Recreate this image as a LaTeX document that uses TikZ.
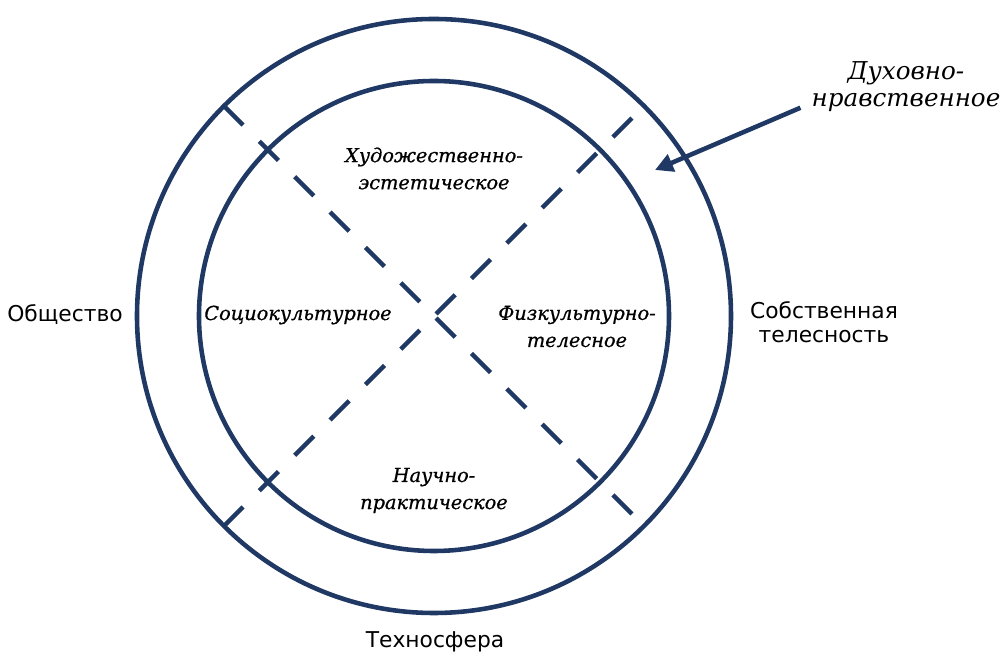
\documentclass[tikz,border=0pt]{standalone}
\usepackage{fontspec}
\setmainfont{DejaVu Serif}
\setsansfont{DejaVu Sans}
\usetikzlibrary{arrows.meta}

\begin{document}
\begin{tikzpicture}

    \definecolor{ringcolor}{HTML}{1F3864}
    \def\rout{5.94}
    \def\rin{4.7}
    \tikzset{
        ring/.style={draw=ringcolor, line width=2.6pt},
        cut/.style={ring, dash pattern=on 0.54cm off 0.46cm},
        sphere/.style={font=\itshape\addfontfeature{FakeBold=0.8}\fontsize{11}{15.4}\selectfont, align=center},
        outside/.style={font=\sffamily\fontsize{12.4}{13.4}\selectfont, align=center}
    }

    \useasboundingbox (-8.68,6.32) rectangle (11.40,-6.74);

    \draw[ring] (0,0) circle (\rout cm);
    \draw[ring] (0,0) circle (\rin cm);

    \draw[cut] (135:\rout) -- (-45:\rout);
    \draw[cut] (225:\rout) -- (45:\rout);

    \node[sphere] (art) at (0,2.95) {Художественно-\\эстетическое};
    \node[sphere] (soc) at (-2.72,0.02) {Социокультурное};
    \node[sphere] (phys) at (2.86,-0.21) {Физкультурно-\\телесное};
    \node[sphere] (sci) at (0,-3.49) {Научно-\\практическое};

    \node[outside] (society) at (-7.38,0.02) {Общество};
    \node[outside] (body) at (7.8,-0.12) {Собственная\\телесность};
    \node[outside] (techno) at (0.02,-6.52) {Техносфера};

    \node[sphere, font=\itshape\fontsize{14}{15.4}\selectfont] (spirit) at (9.44,4.59) {Духовно-\\нравственное};
    \coordinate (tip) at (4.42,2.92);
    \draw[ringcolor, line width=2.6pt, -{Triangle[length=0.36cm, width=0.36cm]}]
        ([xshift=-1mm, yshift=2mm]spirit.south west) -- (tip);

\end{tikzpicture}
\end{document}
